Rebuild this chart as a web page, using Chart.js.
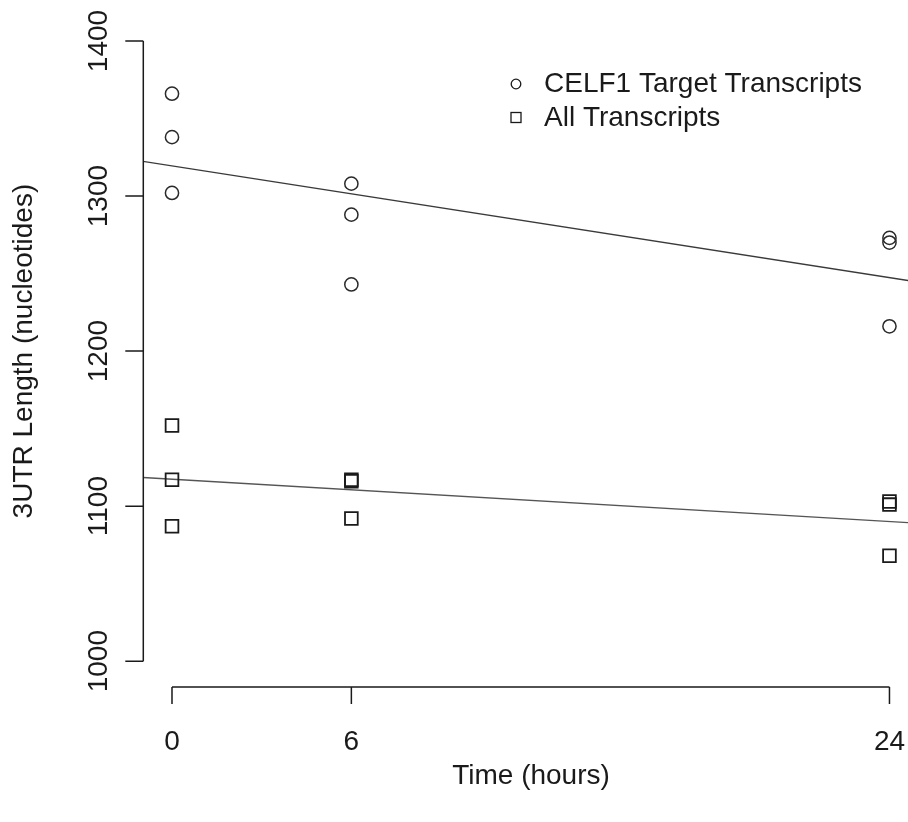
<!DOCTYPE html>
<html>
<head>
<meta charset="utf-8">
<script src="https://cdn.jsdelivr.net/npm/chart.js@4"></script>
<style>
    html, body { margin: 0; padding: 0; background: #fff; overflow: hidden; }
    #wrap { width: 908px; height: 822px; position: relative; }
    #utrChart { display: block; }
</style>
</head>
<body>
<div id="wrap"><canvas id="utrChart"></canvas></div>
<script>
// data
const timeHours = [0, 0, 0, 6, 6, 6, 24, 24, 24];
const celf1Lengths = [1366, 1338, 1302, 1308, 1288, 1243, 1273, 1270, 1216];
const allLengths = [1152, 1117, 1087, 1117, 1116, 1092, 1103, 1101, 1068];

// fitted lines, endpoints read at x = -1 and x = 25
const fitX = [-1, 25];
const celf1Fit = [1322.4, 1244.4];
const allFit = [1118.5, 1089.0];

const xTicks = [0, 6, 24];
const yTicks = [1000, 1100, 1200, 1300, 1400];
const seriesNames = ['CELF1 Target Transcripts', 'All Transcripts'];

const FONT = '28px "Liberation Sans", Arial, sans-serif';
const INK = '#1a1a1a';

function toPoints(xs, ys) {
    return xs.map((x, i) => ({ x: x, y: ys[i] }));
}

document.addEventListener('DOMContentLoaded', function() {

    // R style axes, tick labels, titles and legend
    const rAxes = {
        id: 'rAxes',
        afterDraw(chart) {
            const c = chart.ctx;
            const area = chart.chartArea;
            const xs = chart.scales.x;
            const ys = chart.scales.y;
            c.save();
            c.strokeStyle = INK;
            c.fillStyle = INK;
            c.lineWidth = 1.5;
            c.font = FONT;

            // y axis
            const yl = area.left;
            c.beginPath();
            c.moveTo(yl, ys.getPixelForValue(yTicks[0]));
            c.lineTo(yl, ys.getPixelForValue(yTicks[yTicks.length - 1]));
            yTicks.forEach(v => {
                const py = ys.getPixelForValue(v);
                c.moveTo(yl, py);
                c.lineTo(yl - 18, py);
            });
            c.stroke();
            c.textAlign = 'center';
            c.textBaseline = 'middle';
            yTicks.forEach(v => {
                c.save();
                c.translate(99, ys.getPixelForValue(v));
                c.rotate(-Math.PI / 2);
                c.fillText(String(v), 0, 0);
                c.restore();
            });

            // x axis
            const xb = area.bottom + 1;
            c.beginPath();
            c.moveTo(xs.getPixelForValue(xTicks[0]), xb);
            c.lineTo(xs.getPixelForValue(xTicks[xTicks.length - 1]), xb);
            xTicks.forEach(v => {
                const px = xs.getPixelForValue(v);
                c.moveTo(px, xb);
                c.lineTo(px, xb + 17);
            });
            c.stroke();
            xTicks.forEach(v => {
                c.fillText(String(v), xs.getPixelForValue(v), 742);
            });

            // titles
            c.fillText('Time (hours)', 531, 776);
            c.save();
            c.translate(24, (area.top + area.bottom) / 2);
            c.rotate(-Math.PI / 2);
            c.fillText('3UTR Length (nucleotides)', 0, 0);
            c.restore();

            // legend
            c.textAlign = 'left';
            c.lineWidth = 1.3;
            c.beginPath();
            c.arc(516, 84, 4.8, 0, Math.PI * 2);
            c.stroke();
            c.strokeRect(511, 112.5, 10, 10);
            c.fillText(seriesNames[0], 544, 84);
            c.fillText(seriesNames[1], 544, 118);
            c.restore();
        }
    };

    const ctx = document.getElementById('utrChart').getContext('2d');
    const utrChart = new Chart(ctx, {
        type: 'scatter',
        data: {
            datasets: [
                {
                    label: seriesNames[0],
                    data: toPoints(timeHours, celf1Lengths),
                    pointStyle: 'circle',
                    pointRadius: 6.6,
                    borderColor: '#2a2a2a',
                    backgroundColor: 'rgba(0,0,0,0)',
                    borderWidth: 1.5
                },
                {
                    label: seriesNames[1],
                    data: toPoints(timeHours, allLengths),
                    pointStyle: 'rect',
                    pointRadius: 9,
                    borderColor: '#1a1a1a',
                    backgroundColor: 'rgba(0,0,0,0)',
                    borderWidth: 1.8
                },
                {
                    label: 'fit1',
                    type: 'line',
                    data: toPoints(fitX, celf1Fit),
                    borderColor: '#3a3a3a',
                    borderWidth: 1.3,
                    pointRadius: 0,
                    fill: false
                },
                {
                    label: 'fit2',
                    type: 'line',
                    data: toPoints(fitX, allFit),
                    borderColor: '#555',
                    borderWidth: 1.3,
                    pointRadius: 0,
                    fill: false
                }
            ]
        },
        options: {
            responsive: true,
            maintainAspectRatio: false,
            animation: false,
            layout: {
                autoPadding: false,
                padding: { left: 143.3, right: 0, top: 16.2, bottom: 136 }
            },
            scales: {
                x: { type: 'linear', min: -0.96, max: 24.62, display: false },
                y: { type: 'linear', min: 984, max: 1416, display: false }
            },
            plugins: {
                legend: { display: false },
                tooltip: { enabled: false }
            }
        },
        plugins: [rAxes]
    });
});
</script>
</body>
</html>
